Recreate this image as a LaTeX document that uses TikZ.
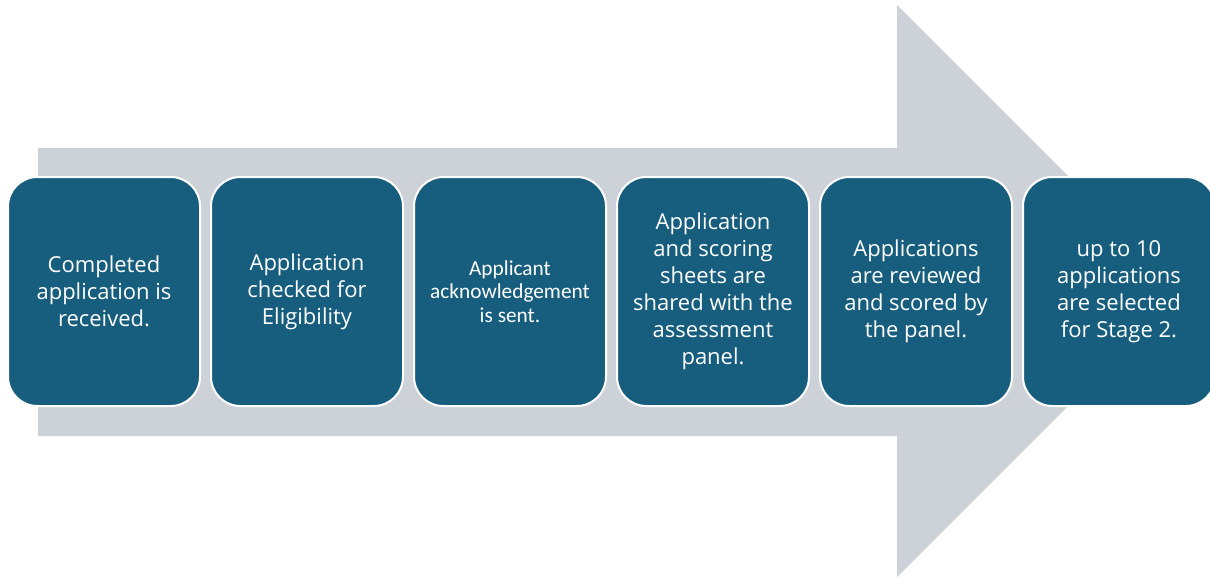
\documentclass[tikz,border=0pt]{standalone}
\usepackage{fontspec}
\setmainfont{Open Sans}
\newfontfamily\smallfont{Carlito}
\definecolor{stepblue}{RGB}{23,94,126}
\definecolor{arrowgrey}{RGB}{205,210,216}
\begin{document}
\begin{tikzpicture}[x=0.75pt, y=-0.75pt, node distance=152.25pt,
	main/.style = {draw=white, line width=1.5pt, fill=stepblue, rounded corners=22pt,
		minimum width=144pt, minimum height=171.75pt, text=white, align=center,
		font=\fontsize{16.5}{20.25}\selectfont}] 
	\useasboundingbox (0,0) rectangle (1210,576);
	% big arrow behind the steps
	\fill[arrowgrey] (38,148) -- (897,148) -- (897,5) -- (1183,291) -- (897,577) -- (897,436) -- (38,436) -- cycle;
	\node[main] (1) at (104,291.5) {Completed\\application is\\received.}; 
	\node[main] (2) [right of=1] {Application\\checked for\\Eligibility}; 
	\node[main, font=\smallfont\fontsize{16}{17.5}\selectfont] (3) [right of=2] {Applicant\\acknowledgement\\is sent.}; 
	\node[main] (4) [right of=3] {Application\\and scoring\\sheets are\\shared with the\\assessment\\panel.}; 
	\node[main] (5) [right of=4] {Applications\\are reviewed\\and scored by\\the panel.}; 
	\node[main] (6) [right of=5] {up to 10\\applications\\are selected\\for Stage 2.}; 
\end{tikzpicture}
\end{document}
